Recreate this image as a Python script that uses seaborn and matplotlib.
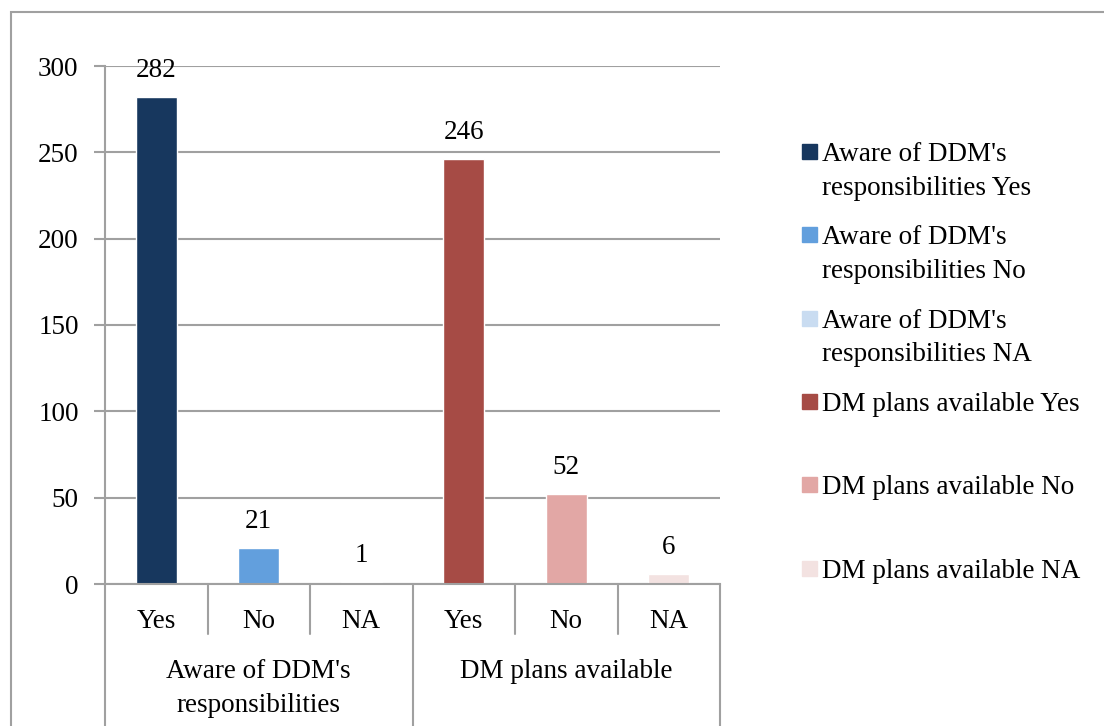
import matplotlib
matplotlib.use("Agg")
import matplotlib.pyplot as plt
import matplotlib.patches as mpatches
import matplotlib.transforms as mtransforms
import pandas as pd
import seaborn as sns

# data
groups = ["Aware of DDM's\nresponsibilities", "DM plans available"]
answers = ["Yes", "No", "NA"]
aware_counts = [282, 21, 1]
plans_counts = [246, 52, 6]
series_names = ["Aware of DDM's\nresponsibilities Yes", "Aware of DDM's\nresponsibilities No",
                "Aware of DDM's\nresponsibilities NA", "DM plans available Yes",
                "DM plans available No", "DM plans available NA"]
colors = ["#17375E", "#629FDD", "#C9DCF1", "#A64B45", "#E2A7A5", "#F3E2E1"]

df = pd.DataFrame({
    "pos": list(range(6)),
    "answer": answers * 2,
    "count": aware_counts + plans_counts,
    "series": series_names,
})

sns.set_theme(style="white")
plt.rcParams['font.family'] = ['Liberation Serif', 'DejaVu Serif']
plt.rcParams['text.color'] = 'black'
plt.rcParams['ytick.labelcolor'] = 'black'
grid_col = "#A0A0A0"
fs = 19.5

fig = plt.figure(figsize=(11.04, 7.26), dpi=100)
ax = fig.add_axes([105 / 1104, 1 - 584 / 726, 615 / 1104, 518 / 726])

sns.barplot(data=df, x="pos", y="count", hue="series", palette=colors, dodge=False,
            width=0.4, legend=False, ax=ax, order=list(range(6)), saturation=1)

for c in ax.containers:
    ax.bar_label(c, fontsize=fs, padding=10, color="black")

ax.set_ylim(0, 300)
ax.set_xlim(-0.5, 5.5)
ax.set_yticks(range(0, 301, 50))
ax.yaxis.grid(True, color=grid_col, linewidth=1.5)
ax.set_axisbelow(True)
ax.tick_params(axis="y", labelsize=fs, left=True, length=8, width=1.5, color=grid_col,
               labelcolor="black", pad=11)
ax.set_xticks([])
ax.set_xlabel("")
ax.set_ylabel("")
for s in ["top", "right"]:
    ax.spines[s].set_visible(False)
for s in ["left", "bottom"]:
    ax.spines[s].set_color(grid_col)
    ax.spines[s].set_linewidth(1.5)

# two level category axis
trans = mtransforms.blended_transform_factory(ax.transData, ax.transAxes)
px = 1 / 518
for i, a in enumerate(df["answer"]):
    ax.text(i, -37 * px, a, transform=trans, ha="center", va="center", fontsize=fs, color="black")
for i, g in enumerate(groups):
    ax.text(1 + 3 * i, -75 * px, g, transform=trans, ha="center", va="top",
            fontsize=fs, linespacing=1.45, color="black")
for k in range(7):
    x = k - 0.5
    bottom = -160 * px if k % 3 == 0 else -50 * px
    ax.plot([x, x], [0, bottom], transform=trans, color=grid_col, lw=1.5, clip_on=False)

# legend drawn like the original: square aligned with the first text line
for i, (name, col) in enumerate(zip(series_names, colors)):
    yc = 152 + i * 83.3
    fig.patches.append(mpatches.Rectangle((802 / 1104, 1 - (yc + 7) / 726), 15 / 1104, 15 / 726,
                                          transform=fig.transFigure, color=col))
    fig.text(822 / 1104, 1 - (yc - 10) / 726, name, fontsize=fs, va="top", ha="left",
             linespacing=1.45, color="black")

# outer chart frame
fig.patches.append(mpatches.Rectangle((11 / 1104, -0.1), 1.2, 1.1 - 12 / 726,
                                      transform=fig.transFigure, fill=False,
                                      edgecolor=grid_col, lw=1.5))

fig.savefig("out.png", dpi=100)
